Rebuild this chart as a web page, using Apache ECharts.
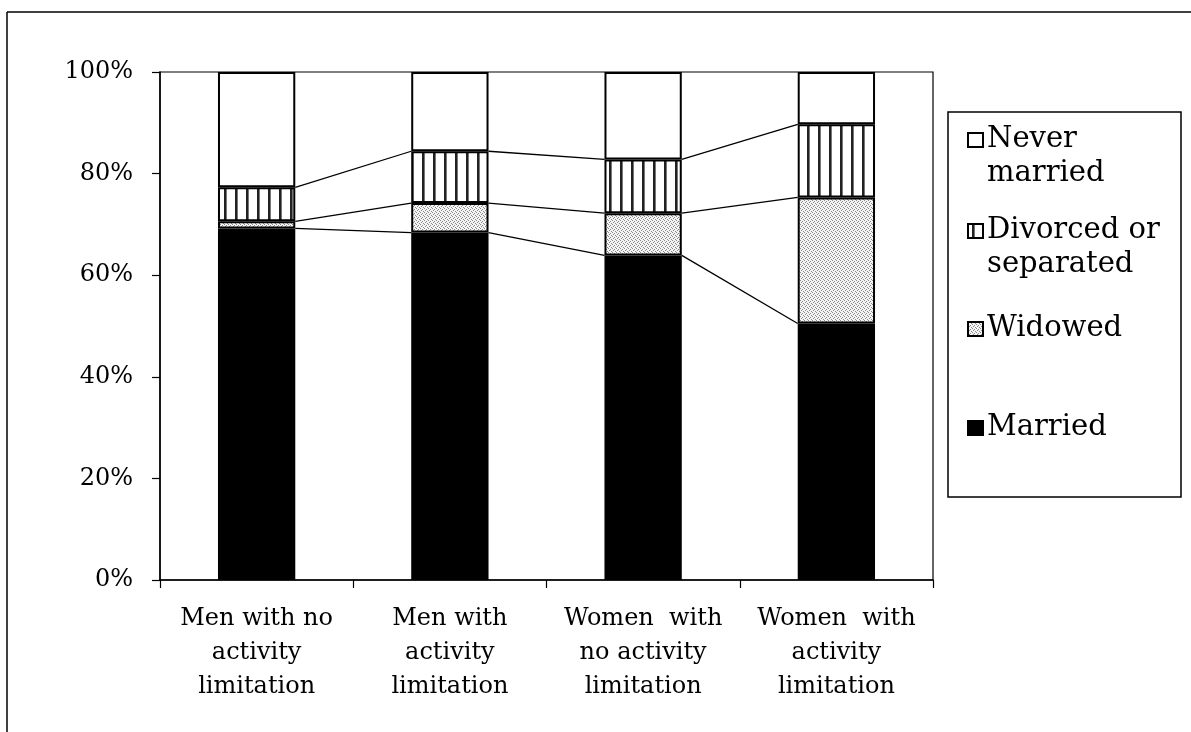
<!DOCTYPE html>
<html>
<head>
<meta charset="utf-8">
<script src="https://cdn.jsdelivr.net/npm/echarts@6/dist/echarts.min.js"></script>
<style>
html,body{margin:0;padding:0;background:#fff;}
#chart{width:1191px;height:732px;}
</style>
</head>
<body>
<div id="chart"></div>
<script>
// ---- data ----
const categories = ['Men with no activity limitation', 'Men with activity limitation', 'Women with no activity limitation', 'Women with activity limitation'];
const categoryLabels = ['Men with no\nactivity\nlimitation', 'Men with\nactivity\nlimitation', 'Women  with\nno activity\nlimitation', 'Women  with\nactivity\nlimitation'];
const married = [69.2, 68.4, 63.9, 50.5];
const widowed = [1.4, 5.8, 8.3, 24.8];
const divorced = [6.7, 10.2, 10.6, 14.4];
const neverMarried = [22.7, 15.6, 17.2, 10.3];
const seriesNames = ['Married', 'Widowed', 'Divorced or separated', 'Never married'];
const legendLines = [['Never', 'married'], ['Divorced or', 'separated'], ['Widowed'], ['Married']];
const yTickValues = [0, 20, 40, 60, 80, 100];

// ---- patterns ----
function stripePattern() {
  const c = document.createElement('canvas');
  c.width = 11; c.height = 4;
  const g = c.getContext('2d');
  g.fillStyle = '#fff'; g.fillRect(0, 0, 11, 4);
  g.fillStyle = '#222'; g.fillRect(4, 0, 2, 4);
  g.fillStyle = '#777'; g.fillRect(6, 0, 1, 4);
  return c;
}
function speckPattern() {
  const c = document.createElement('canvas');
  c.width = 4; c.height = 4;
  const g = c.getContext('2d');
  g.fillStyle = '#f4f4f4'; g.fillRect(0, 0, 4, 4);
  g.fillStyle = '#8a8a8a';
  [[0,0],[2,1],[1,2],[3,3]].forEach(p => g.fillRect(p[0], p[1], 1, 1));
  return c;
}
const stripeFill = { image: stripePattern(), repeat: 'repeat' };
const speckFill = { image: speckPattern(), repeat: 'repeat' };

// cumulative levels for series lines
const lvl1 = married.map((v, i) => v);
const lvl2 = married.map((v, i) => v + widowed[i]);
const lvl3 = married.map((v, i) => v + widowed[i] + divorced[i]);
const seriesLineData = [];
[lvl1, lvl2, lvl3].forEach(l => {
  for (let i = 0; i < l.length - 1; i++) seriesLineData.push([i, l[i], l[i + 1]]);
});

const FONT = 'DejaVu Serif';
const barBorder = { borderColor: '#000', borderWidth: 2 };

const chart = echarts.init(document.getElementById('chart'));

// legend built as graphic
const legendX = 948, legendY = 112, legendW = 233, legendH = 385;
const iconFills = ['#fff', stripeFill, speckFill, '#000'];
const legendBaselines = [[149, 183], [240, 274], [338], [437]];
const legendGraphics = [
  { type: 'rect', shape: { x: legendX, y: legendY, width: legendW, height: legendH }, style: { fill: '#fff', stroke: '#000', lineWidth: 1.5 } }
];
legendLines.forEach((lines, k) => {
  const b0 = legendBaselines[k][0];
  legendGraphics.push({ type: 'rect', shape: { x: 968, y: b0 - 16, width: 15, height: 14 }, style: { fill: iconFills[k], stroke: '#000', lineWidth: 2 } });
  lines.forEach((t, j) => {
    legendGraphics.push({ type: 'text', x: 987, y: legendBaselines[k][j] - 10, style: { text: t, font: '29px "' + FONT + '"', fill: '#000', verticalAlign: 'middle', align: 'left' } });
  });
});

const option = {
  backgroundColor: '#fff',
  animation: false,
  grid: { left: 160, right: 258, top: 72, bottom: 152, show: true, borderColor: '#000', borderWidth: 1.2, backgroundColor: 'transparent' },
  xAxis: {
    type: 'category',
    data: categories,
    axisLine: { lineStyle: { color: '#000', width: 1.5 } },
    axisTick: { show: true, length: 8, lineStyle: { color: '#000', width: 1.2 } },
    axisLabel: {
      interval: 0, margin: 22, color: '#000', fontFamily: FONT, fontSize: 24, lineHeight: 34,
      formatter: (v, i) => categoryLabels[i]
    }
  },
  yAxis: {
    type: 'value', min: 0, max: 100, interval: 20,
    axisLine: { show: true, lineStyle: { color: '#000', width: 1.5 } },
    axisTick: { show: true, length: 8, lineStyle: { color: '#000', width: 1.2 } },
    splitLine: { show: false },
    axisLabel: { margin: 27, color: '#000', fontFamily: FONT, fontSize: 24, formatter: v => yTickValues.includes(v) ? v + '%' : '' }
  },
  series: [
    { name: seriesNames[0], type: 'bar', stack: 'total', barWidth: '40%', data: married, itemStyle: Object.assign({ color: '#000' }, barBorder) },
    { name: seriesNames[1], type: 'bar', stack: 'total', barWidth: '40%', data: widowed, itemStyle: Object.assign({ color: speckFill }, barBorder) },
    { name: seriesNames[2], type: 'bar', stack: 'total', barWidth: '40%', data: divorced, itemStyle: Object.assign({ color: stripeFill }, barBorder) },
    { name: seriesNames[3], type: 'bar', stack: 'total', barWidth: '40%', data: neverMarried, itemStyle: Object.assign({ color: '#fff' }, barBorder) },
    {
      type: 'custom', data: seriesLineData, encode: { x: 0, y: 1 }, z: 5, silent: true,
      renderItem: function (params, api) {
        const i = api.value(0);
        const a = api.coord([i, api.value(1)]);
        const b = api.coord([i + 1, api.value(2)]);
        const hw = api.size([1, 0])[0] * 0.2;
        return { type: 'line', shape: { x1: a[0] + hw, y1: a[1], x2: b[0] - hw, y2: b[1] }, style: { stroke: '#000', lineWidth: 1.3 } };
      }
    }
  ],
  graphic: [
    { type: 'line', shape: { x1: 7, y1: 12, x2: 1191, y2: 12 }, style: { stroke: '#000', lineWidth: 1.5 } },
    { type: 'line', shape: { x1: 7, y1: 12, x2: 7, y2: 732 }, style: { stroke: '#000', lineWidth: 1.5 } }
  ].concat(legendGraphics)
};
chart.setOption(option);
</script>
</body>
</html>
